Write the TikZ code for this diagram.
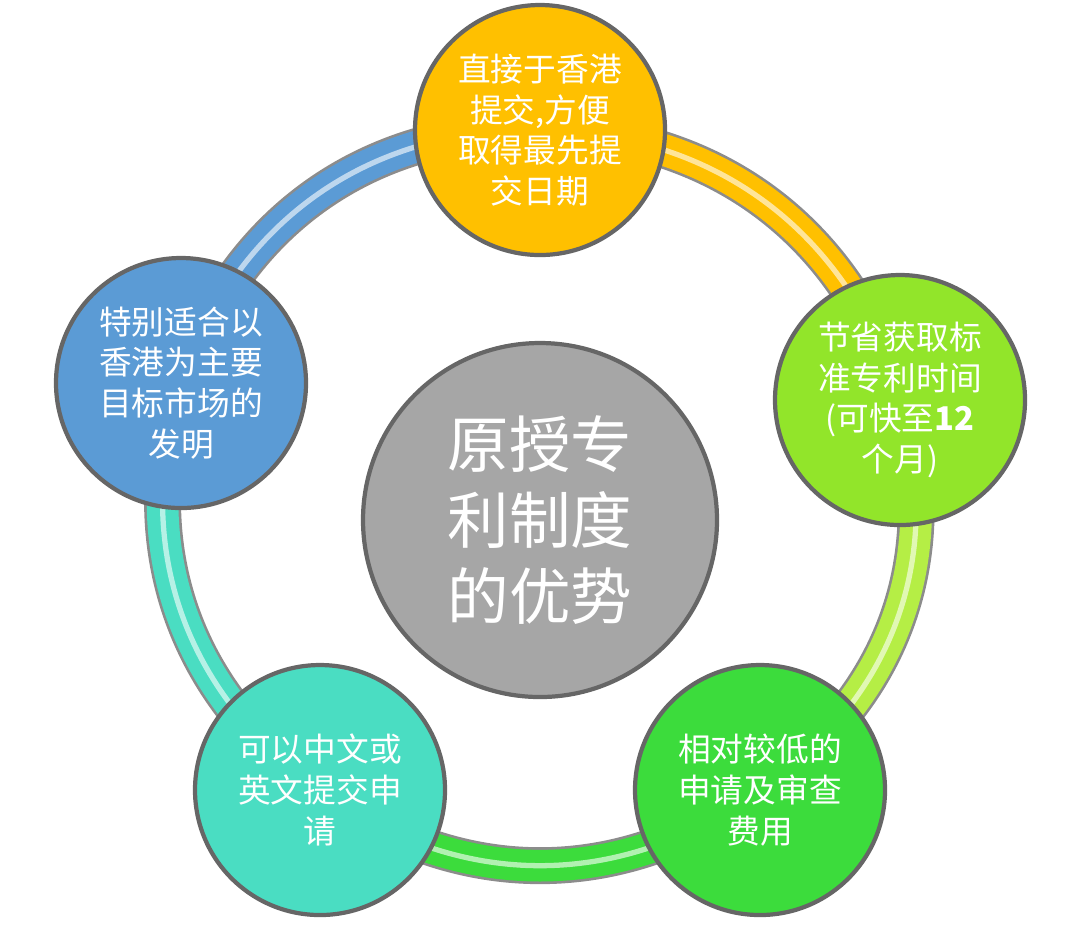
\documentclass[tikz,border=0pt]{standalone}
\usepackage{fontspec}
\setmainfont{Noto Sans CJK SC}
\usetikzlibrary{calc}
\definecolor{corange}{HTML}{FFC000}
\definecolor{clime}{HTML}{92E52A}
\definecolor{clime2}{HTML}{B5EE45}
\definecolor{cgreen}{HTML}{3CDC3C}
\definecolor{cteal}{HTML}{4ADDC2}
\definecolor{cblue}{HTML}{5B9BD5}
\definecolor{cgray}{HTML}{A6A6A6}
\begin{document}
\begin{tikzpicture}[x=0.01cm,y=-0.01cm,
  bub/.style={circle,minimum size=250*0.01cm,draw=black!60,line width=1.2pt,text=white,align=center,font=\fontsize{9.3}{11.6}\selectfont,inner sep=0pt},
  seg/.style={line width=9pt},
  hl/.style={line width=1.5pt,white,opacity=0.6}]
\useasboundingbox (0,0) rectangle (1080,935);
\coordinate (T) at (540,130);
\coordinate (R) at (900,400);
\coordinate (BR) at (760,790);
\coordinate (BL) at (320,790);
\coordinate (L) at (181,383);
\foreach \a/\b/\c in {T/R/corange,R/BR/clime2,BR/BL/cgreen,BL/L/cteal,L/T/cblue}{
  \draw[seg,draw=black!45,line width=10.5pt] (\a) to[bend left=36] (\b);
  \draw[seg,draw=\c] (\a) to[bend left=36] (\b);
  \draw[hl] (\a) to[bend left=36] (\b);
}
\node[bub,fill=cgray,minimum size=354*0.01cm,font=\fontsize{17.5}{21.5}\selectfont] (C) at (540,520) {原授专\\利制度\\的优势};
\node[bub,fill=corange] (nT) at (T) {直接于香港\\提交,方便\\取得最先提\\交日期};
\node[bub,fill=clime] (nR) at (R) {节省获取标\\准专利时间\\(可快至\textbf{12}\\个月)};
\node[bub,fill=cgreen] (nBR) at (BR) {相对较低的\\申请及审查\\费用};
\node[bub,fill=cteal] (nBL) at (BL) {可以中文或\\英文提交申\\请};
\node[bub,fill=cblue] (nL) at (L) {特别适合以\\香港为主要\\目标市场的\\发明};
\end{tikzpicture}
\end{document}
